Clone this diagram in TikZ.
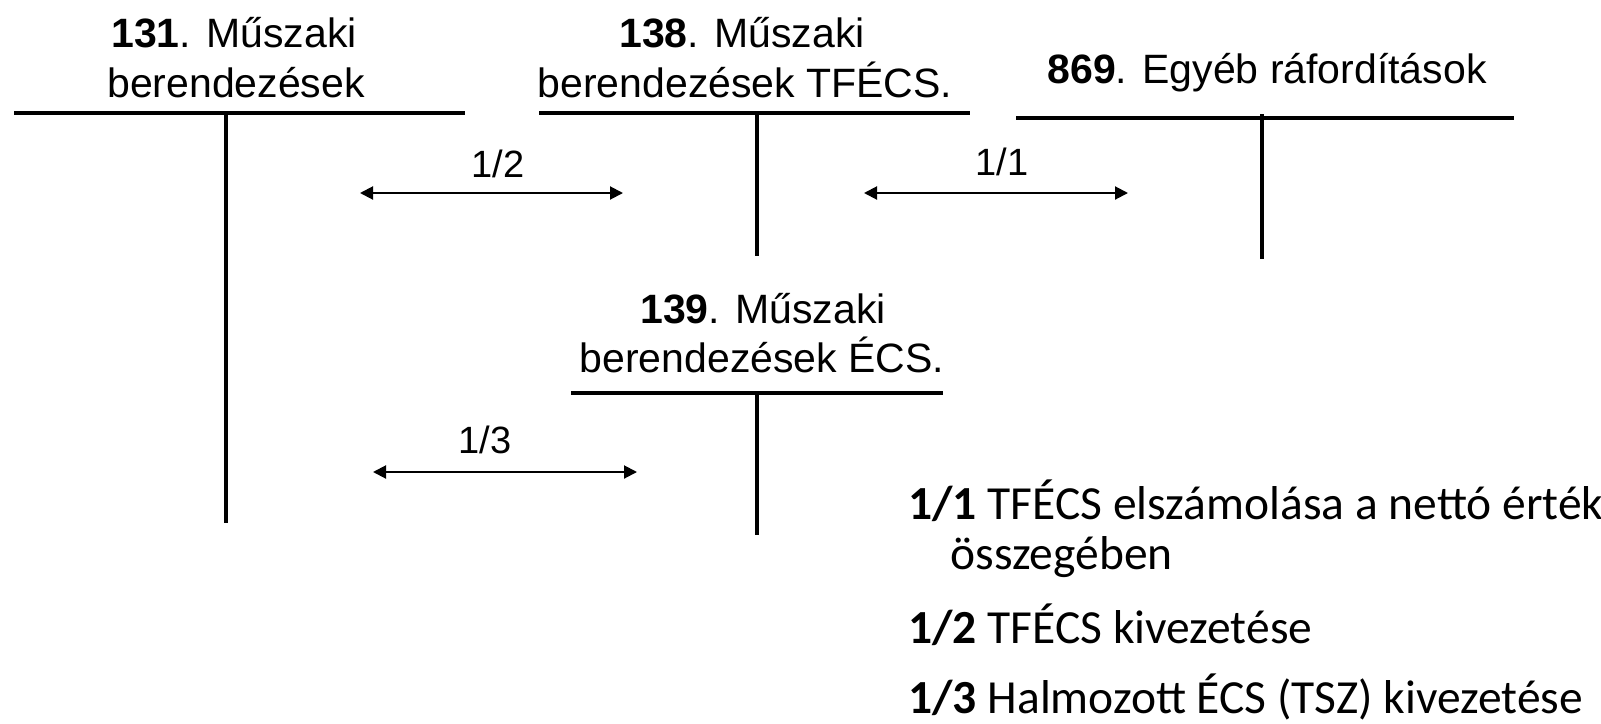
\documentclass[tikz,border=0pt]{standalone}
\usepackage{fontspec}
\setmainfont{Liberation Sans}
\newfontfamily\legendfont{Carlito}
\usetikzlibrary{arrows.meta}
\tikzset{
  acctitle/.style={anchor=base,inner sep=0pt,font=\fontsize{20.5pt}{24pt}\selectfont},
  flowlbl/.style={anchor=base,inner sep=0pt,font=\fontsize{19pt}{22pt}\selectfont},
  legendtxt/.style={anchor=base west,inner sep=0pt,font=\legendfont\fontsize{23.75pt}{28pt}\selectfont},
  tline/.style={line width=2.4pt},
  flow/.style={line width=1pt,{Triangle[length=6.5pt,width=6.5pt]}-{Triangle[length=6.5pt,width=6.5pt]}},
}
\begin{document}
\begin{tikzpicture}[x=0.5pt,y=-0.5pt]
\useasboundingbox (0,0) rectangle (1601,723);

% ---- account 131
\node[acctitle] (t131a) at (234,47) {\textbf{131}. Műszaki};
\node[acctitle] (t131b) at (236,97) {berendezések};
\coordinate (a131L) at (14,113);
\coordinate (a131R) at (465,113);
\coordinate (a131T) at (226,113);
\coordinate (a131B) at (226,523);
\draw[tline] (a131L) -- (a131R);
\draw[tline] (a131T) -- (a131B);

% ---- account 138
\node[acctitle] (t138a) at (742,47) {\textbf{138}. Műszaki};
\node[acctitle] (t138b) at (745,97) {berendezések TFÉCS.};
\coordinate (a138L) at (539,113);
\coordinate (a138R) at (970,113);
\coordinate (a138T) at (757,113);
\coordinate (a138B) at (757,256);
\draw[tline] (a138L) -- (a138R);
\draw[tline] (a138T) -- (a138B);

% ---- account 869
\node[acctitle] (t869) at (1267,83) {\textbf{869}. Egyéb ráfordítások};
\coordinate (a869L) at (1016,118);
\coordinate (a869R) at (1514,118);
\coordinate (a869T) at (1262,114);
\coordinate (a869B) at (1262,259);
\draw[tline] (a869L) -- (a869R);
\draw[tline] (a869T) -- (a869B);

% ---- account 139
\node[acctitle] (t139a) at (763,323) {\textbf{139}. Műszaki};
\node[acctitle] (t139b) at (762,372) {berendezések ÉCS.};
\coordinate (a139L) at (571,393);
\coordinate (a139R) at (943,393);
\coordinate (a139T) at (757,393);
\coordinate (a139B) at (757,535);
\draw[tline] (a139L) -- (a139R);
\draw[tline] (a139T) -- (a139B);

% ---- flows
\coordinate (f12L) at (360,193);
\coordinate (f12R) at (623,193);
\draw[flow] (f12L) -- (f12R);
\node[flowlbl] (l12) at (498,177) {1/2};

\coordinate (f11L) at (864,193);
\coordinate (f11R) at (1128,193);
\draw[flow] (f11L) -- (f11R);
\node[flowlbl] (l11) at (1002,175) {1/1};

\coordinate (f13L) at (373,472);
\coordinate (f13R) at (637,472);
\draw[flow] (f13L) -- (f13R);
\node[flowlbl] (l13) at (485,453) {1/3};

% ---- legend
\node[legendtxt] (g1) at (908,519) {\textbf{1/1} TFÉCS elszámolása a nettó érték};
\node[legendtxt] (g1b) at (950,569) {összegében};
\node[legendtxt] (g2) at (908,643) {\textbf{1/2} TFÉCS kivezetése};
\node[legendtxt] (g3) at (908,713) {\textbf{1/3} Halmozott ÉCS (TSZ) kivezetése};
\end{tikzpicture}
\end{document}
